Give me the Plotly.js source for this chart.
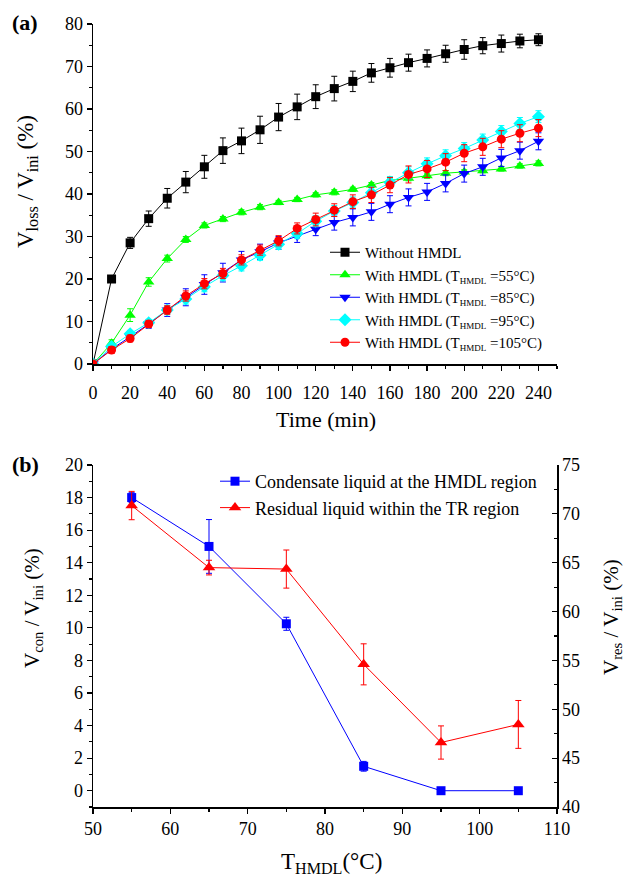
<!DOCTYPE html>
<html>
<head>
<meta charset="utf-8">
<script src="https://cdn.plot.ly/plotly-3.0.1.min.js"></script>
<style>html,body{margin:0;padding:0;background:#fff;} #chart{width:625px;height:876px;}</style>
</head>
<body>
<div id="chart"></div>
<script>
// ---------- Panel (a) data ----------
const time = [0,10,20,30,40,50,60,70,80,90,100,110,120,130,140,150,160,170,180,190,200,210,220,230,240];
const noHmdl    = [0,20,28.5,34.2,39.0,42.8,46.4,50.2,52.5,55.1,58.1,60.5,62.9,64.8,66.5,68.5,69.7,70.9,71.9,73.0,74.0,74.9,75.4,76.0,76.3];
const noHmdlErr = [0,0.5,1.3,1.8,2.3,2.5,2.7,3.0,3.0,3.2,3.2,3.0,2.8,2.9,2.4,2.2,2.2,2.0,2.0,2.0,2.3,1.9,2.0,1.6,1.4];
const h55    = [0,4.9,11.5,19.3,24.8,29.3,32.6,34.1,35.7,36.9,38.0,38.7,39.8,40.4,41.1,42.1,43.2,43.7,44.3,44.9,45.2,45.5,45.9,46.6,47.2];
const h55Err = [0,0.8,1.5,1.0,0.8,0.7,0.6,0.6,0.6,0.6,0.5,0.5,0.5,0.6,0.5,0.6,0.6,0.6,0.6,0.6,0.5,0.5,0.5,0.5,0.6];
const h85    = [0,3.5,6.4,9.4,12.7,15.7,18.7,21.5,24.5,26.4,28.5,30.1,31.7,33.3,34.5,35.8,37.6,39.2,40.5,42.5,44.8,46.4,48.5,50.2,52.4];
const h85Err = [0,0.8,1.0,1.0,1.5,2.0,2.3,2.2,2.0,1.8,1.5,1.5,1.5,1.8,2.0,2.0,2.0,2.0,2.0,2.0,2.0,2.0,2.0,2.0,2.0];
const h95    = [0,4.1,7.1,9.7,12.7,15.3,18.2,20.8,23.1,25.6,28.2,30.7,33.6,36.0,38.0,40.3,42.7,45.0,47.1,49.0,50.7,52.7,54.7,56.6,58.2];
const h95Err = [0,0.8,0.8,0.8,1.0,1.2,1.2,1.2,1.2,1.2,1.2,1.2,1.3,1.3,1.3,1.4,1.4,1.4,1.4,1.4,1.4,1.4,1.4,1.4,1.4];
const h105    = [0,3.3,6.0,9.4,12.7,16.0,18.9,21.3,24.5,26.8,29.0,31.9,34.0,36.2,38.2,39.8,42.1,44.6,45.9,47.5,49.6,51.1,52.9,54.3,55.5];
const h105Err = [0,0.8,0.8,0.8,1.0,1.2,1.2,1.2,1.2,1.2,1.2,1.3,1.5,1.5,1.6,1.8,1.8,2.0,2.0,2.0,2.0,2.0,2.0,2.0,2.0];
const seriesNames = ['Without HMDL', 'With HMDL (T<sub><span style="font-size:9px">HMDL</span></sub> =55°C)',
  'With HMDL (T<sub><span style="font-size:9px">HMDL</span></sub> =85°C)',
  'With HMDL (T<sub><span style="font-size:9px">HMDL</span></sub> =95°C)',
  'With HMDL (T<sub><span style="font-size:9px">HMDL</span></sub> =105°C)'];

// ---------- Panel (b) data ----------
const tHmdl = [55,65,75,85,95,105];
const vCon    = [18.0,15.0,10.25,1.5,0,0];
const vConErr = [0.3,1.65,0.4,0.3,0,0];
const vRes    = [70.85,64.5,64.35,54.6,46.6,48.45];
const vResErr = [1.45,0.75,1.95,2.1,1.7,2.45];

const FONT = 'Liberation Serif';

function seriesA(y, err, name, color, symbol, size) {
  return {
    x: time, y: y, name: name, type: 'scatter', mode: 'lines+markers',
    xaxis: 'x', yaxis: 'y', legend: 'legend',
    line: {color: color, width: 1},
    marker: {color: color, symbol: symbol, size: size},
    error_y: {type: 'data', array: err, visible: true, color: color, thickness: 1, width: 3}
  };
}

const data = [
  seriesA(noHmdl, noHmdlErr, seriesNames[0], '#000000', 'square', 9),
  seriesA(h55, h55Err, seriesNames[1], '#00ff00', 'triangle-up', 10),
  seriesA(h85, h85Err, seriesNames[2], '#0000ff', 'triangle-down', 10),
  seriesA(h95, h95Err, seriesNames[3], '#00ffff', 'diamond', 10),
  seriesA(h105, h105Err, seriesNames[4], '#ff0000', 'circle', 9),
  {
    x: tHmdl, y: vCon, name: 'Condensate liquid at the HMDL region', type: 'scatter', mode: 'lines+markers',
    xaxis: 'x2', yaxis: 'y2', legend: 'legend2',
    line: {color: '#0000ff', width: 1}, marker: {color: '#0000ff', symbol: 'square', size: 9},
    error_y: {type: 'data', array: vConErr, visible: true, color: '#0000ff', thickness: 1, width: 3}
  },
  {
    x: tHmdl, y: vRes, name: 'Residual liquid within the TR region', type: 'scatter', mode: 'lines+markers',
    xaxis: 'x2', yaxis: 'y3', legend: 'legend2',
    line: {color: '#ff0000', width: 1}, marker: {color: '#ff0000', symbol: 'triangle-up', size: 11},
    error_y: {type: 'data', array: vResErr, visible: true, color: '#ff0000', thickness: 1, width: 3}
  }
];

const W = 625, H = 876;
const xd = [93/W, 557/W];
const yda = [1-364/H, 1-24/H];
const ydb = [1-807/H, 1-465/H];

const tickFont = {family: FONT, size: 18, color: '#000'};
function ax(o) {
  return Object.assign({
    showgrid: false, zeroline: false, showline: true, linecolor: '#000', linewidth: 1.5,
    ticks: 'outside', ticklen: 5, tickwidth: 1.2, tickcolor: '#000', tickfont: tickFont,
    automargin: false, fixedrange: true
  }, o);
}

const layout = {
  width: W, height: H,
  margin: {l: 0, r: 0, t: 0, b: 0},
  paper_bgcolor: '#fff', plot_bgcolor: '#fff',
  font: {family: FONT, color: '#000'},
  xaxis: ax({domain: xd, anchor: 'y', range: [0, 250], tick0: 0, dtick: 20, ticklabelstandoff: 7,
    minor: {dtick: 10, ticks: 'outside', ticklen: 3, tickcolor: '#000'}}),
  yaxis: ax({domain: yda, anchor: 'x', range: [0, 80], tick0: 0, dtick: 10,
    minor: {dtick: 5, ticks: 'outside', ticklen: 3, tickcolor: '#000'}}),
  xaxis4: ax({overlaying: 'x', anchor: 'y', side: 'top', range: [0, 250], dtick: 20, ticks: 'inside',
    showticklabels: false, minor: {dtick: 10, ticks: 'inside', ticklen: 3, tickcolor: '#000'}}),
  yaxis4: ax({overlaying: 'y', anchor: 'x', side: 'right', range: [0, 80], dtick: 10, ticks: 'inside',
    showticklabels: false, minor: {dtick: 5, ticks: 'inside', ticklen: 3, tickcolor: '#000'}}),
  xaxis2: ax({domain: xd, anchor: 'y2', range: [50, 110], tick0: 50, dtick: 10,
    minor: {dtick: 5, ticks: 'outside', ticklen: 3, tickcolor: '#000'}}),
  yaxis2: ax({domain: ydb, anchor: 'x2', range: [-1, 20], tick0: 0, dtick: 2,
    minor: {dtick: 1, ticks: 'outside', ticklen: 3, tickcolor: '#000'}}),
  yaxis3: ax({overlaying: 'y2', anchor: 'x2', side: 'right', range: [40, 75], tick0: 40, dtick: 5, ticks: 'inside',
    minor: {dtick: 2.5, ticks: 'inside', ticklen: 3, tickcolor: '#000'}}),
  xaxis5: ax({overlaying: 'x2', anchor: 'y2', side: 'top', range: [50, 110], dtick: 10, ticks: 'inside',
    showticklabels: false, minor: {dtick: 5, ticks: 'inside', ticklen: 3, tickcolor: '#000'}}),
  legend: {x: 325/W, y: 1-236/H, xanchor: 'left', yanchor: 'top', bgcolor: 'rgba(0,0,0,0)',
    font: {family: FONT, size: 15, color: '#000'}, tracegroupgap: 0, itemwidth: 30},
  legend2: {x: 215/W, y: 1-463/H, xanchor: 'left', yanchor: 'top', bgcolor: 'rgba(0,0,0,0)',
    font: {family: FONT, size: 18, color: '#000'}, tracegroupgap: 0, itemwidth: 30},
  annotations: [
    {text: '<b>(a)</b>', x: 10/W, y: 1-22/H, xref: 'paper', yref: 'paper', xanchor: 'left', yanchor: 'middle',
      showarrow: false, font: {family: FONT, size: 22, color: '#000'}},
    {text: '<b>(b)</b>', x: 10/W, y: 1-464/H, xref: 'paper', yref: 'paper', xanchor: 'left', yanchor: 'middle',
      showarrow: false, font: {family: FONT, size: 22, color: '#000'}},
    {text: 'V<sub>loss</sub> / V<sub>ini</sub> (%)', x: 27/W, y: 1-182/H, xref: 'paper', yref: 'paper',
      xanchor: 'center', yanchor: 'middle', textangle: -90, showarrow: false, font: {family: FONT, size: 23, color: '#000'}},
    {text: 'Time (min)', x: 326/W, y: 1-420/H, xref: 'paper', yref: 'paper', xanchor: 'center', yanchor: 'middle',
      showarrow: false, font: {family: FONT, size: 22, color: '#000'}},
    {text: 'V<sub>con</sub> / V<sub>ini</sub> (%)', x: 33/W, y: 1-608/H, xref: 'paper', yref: 'paper',
      xanchor: 'center', yanchor: 'middle', textangle: -90, showarrow: false, font: {family: FONT, size: 21, color: '#000'}},
    {text: 'V<sub>res</sub> / V<sub>ini</sub> (%)', x: 612/W, y: 1-617/H, xref: 'paper', yref: 'paper',
      xanchor: 'center', yanchor: 'middle', textangle: -90, showarrow: false, font: {family: FONT, size: 21, color: '#000'}},
    {text: 'T<sub>HMDL</sub>(°C)', x: 331/W, y: 1-863/H, xref: 'paper', yref: 'paper', xanchor: 'center', yanchor: 'middle',
      showarrow: false, font: {family: FONT, size: 23, color: '#000'}}
  ]
};

Plotly.newPlot('chart', data, layout, {displayModeBar: false, staticPlot: true});
</script>
</body>
</html>
